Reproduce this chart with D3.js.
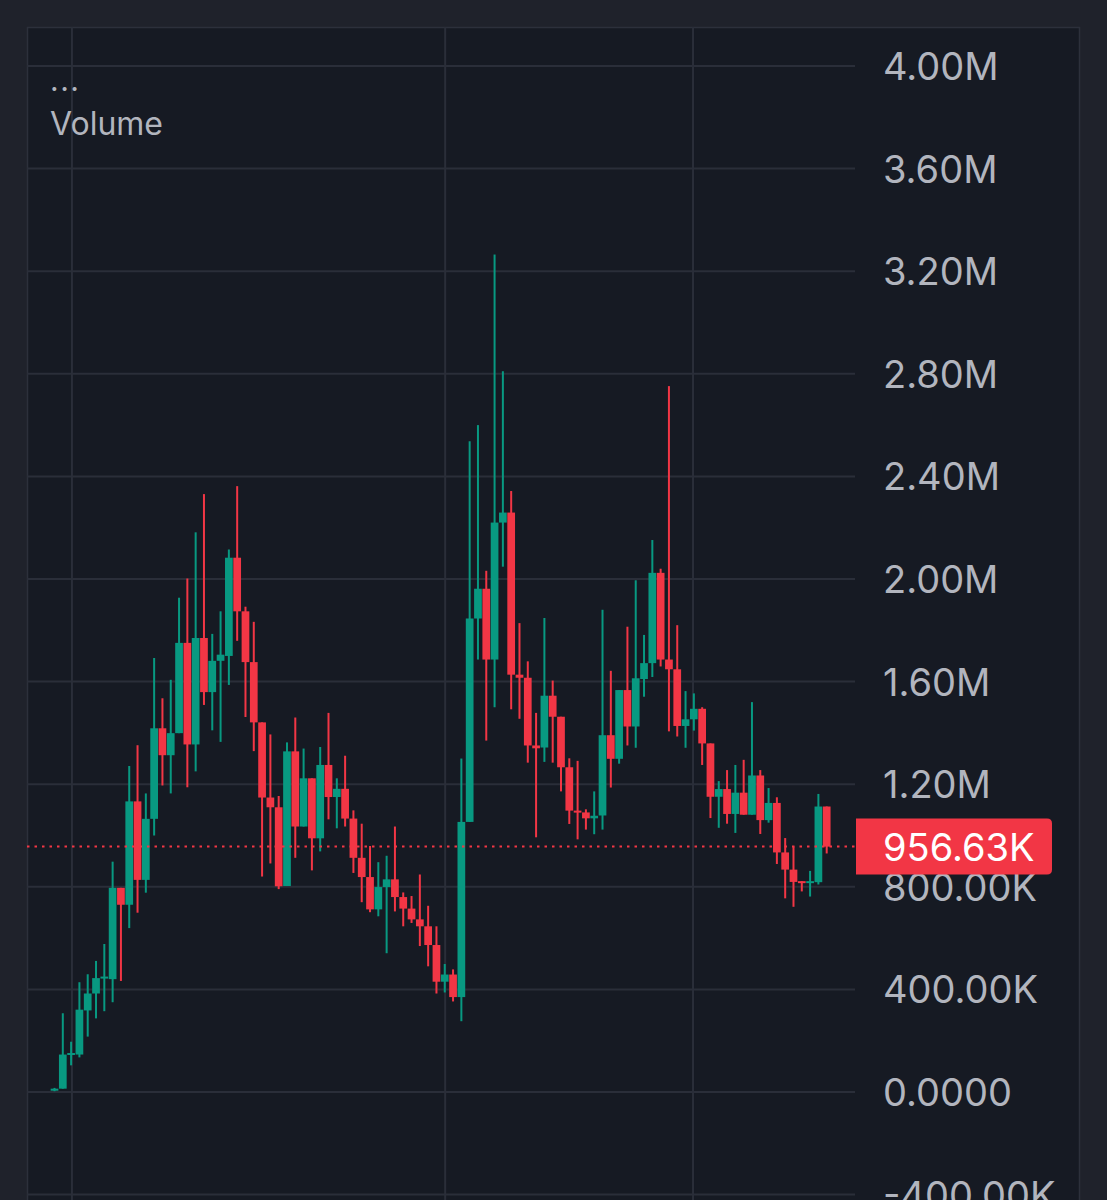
<!DOCTYPE html>
<html>
<head>
<meta charset="utf-8">
<script src="https://cdn.jsdelivr.net/npm/d3@7"></script>
<style>
  html, body { margin: 0; padding: 0; background: #1f222b; }
  svg { display: block; }
</style>
</head>
<body>
<svg id="chart" width="1107" height="1200"></svg>
<script>
// volume candles, values in millions
const opens = [0.005,0.013,0.146,0.146,0.318,0.384,0.444,0.440,0.796,0.730,
  1.133,0.827,1.065,1.418,1.313,1.399,1.751,1.355,1.770,1.559,
  1.681,1.700,2.083,1.874,1.676,1.441,1.148,1.110,0.803,1.328,
  1.035,1.223,0.989,1.275,1.150,1.182,1.066,0.913,0.838,0.712,
  0.799,0.829,0.760,0.715,0.673,0.646,0.573,0.430,0.458,0.370,
  1.053,1.846,1.962,1.686,2.220,2.259,1.627,1.615,1.351,1.343,
  1.545,1.463,1.266,1.097,1.090,1.067,1.078,1.391,1.299,1.567,
  1.425,1.610,1.672,2.024,1.686,1.648,1.427,1.453,1.494,1.359,
  1.151,1.181,1.084,1.167,1.081,1.234,1.060,1.127,0.934,0.867,
  0.822,0.815,0.818,1.113];
const highs = [0.016,0.307,0.196,0.428,0.459,0.511,0.577,0.898,0.796,1.271,
  1.352,1.164,1.692,1.535,1.607,1.927,2.002,2.182,2.331,1.786,
  1.874,2.115,2.362,1.892,1.833,1.441,1.394,1.154,1.363,1.460,
  1.339,1.223,1.345,1.478,1.223,1.311,1.098,1.046,0.959,0.896,
  0.921,1.035,0.778,0.764,0.848,0.726,0.646,0.499,0.478,1.300,
  2.537,2.600,2.032,3.265,2.810,2.343,1.828,1.679,1.478,1.848,
  1.604,1.463,1.301,1.291,1.102,1.172,1.880,1.642,1.567,1.814,
  1.995,1.782,2.152,2.040,2.752,1.820,1.563,1.554,1.500,1.359,
  1.212,1.255,1.275,1.295,1.520,1.255,1.185,1.149,0.990,0.957,
  0.822,0.862,1.162,1.113];
const lows = [0.003,0.013,0.104,0.135,0.216,0.287,0.315,0.350,0.433,0.639,
  0.699,0.777,1.000,1.195,1.164,1.399,1.188,1.250,1.509,1.410,
  1.365,1.587,1.759,1.462,1.329,0.840,0.891,0.791,0.803,0.913,
  1.035,0.864,0.938,1.063,1.028,1.035,0.854,0.740,0.701,0.685,
  0.541,0.704,0.646,0.659,0.569,0.490,0.384,0.388,0.353,0.276,
  1.053,1.686,1.370,1.500,2.048,1.492,1.455,1.284,0.993,1.287,
  1.284,1.172,1.045,0.985,1.023,1.005,1.023,1.187,1.280,1.351,
  1.342,1.541,1.618,1.659,1.406,1.386,1.342,1.409,1.275,1.068,
  1.030,1.046,1.010,1.081,1.081,1.006,1.050,0.889,0.755,0.722,
  0.782,0.762,0.809,0.930];
const closes = [0.013,0.146,0.152,0.321,0.384,0.444,0.450,0.796,0.730,1.133,
  0.827,1.065,1.418,1.313,1.399,1.751,1.355,1.770,1.559,1.681,
  1.705,2.083,1.874,1.676,1.441,1.148,1.110,0.802,1.328,1.035,
  1.223,0.989,1.275,1.150,1.182,1.066,0.913,0.838,0.712,0.799,
  0.829,0.760,0.715,0.673,0.646,0.573,0.430,0.458,0.370,1.053,
  1.846,1.962,1.686,2.220,2.259,1.627,1.615,1.351,1.340,1.545,
  1.463,1.266,1.097,1.090,1.067,1.077,1.391,1.299,1.567,1.425,
  1.613,1.672,2.024,1.686,1.648,1.427,1.453,1.494,1.359,1.151,
  1.181,1.084,1.167,1.081,1.234,1.060,1.127,0.934,0.867,0.819,
  0.815,0.822,1.113,0.95663];

// price axis ticks (millions) and their labels
const tickValues = [-0.4, 0, 0.4, 0.8, 1.2, 1.6, 2.0, 2.4, 2.8, 3.2, 3.6, 4.0];
const tickLabels = ["-400.00K","0.0000","400.00K","800.00K","1.20M","1.60M",
                    "2.00M","2.40M","2.80M","3.20M","3.60M","4.00M"];
// time grid lines, in candle index units
const timeGrid = [2.1, 47.05, 76.9];

const UP = "#089981", DOWN = "#f23645";
const TXT = "#b2b5be", GRID = "#2a2e39";
const FONT = "Inter, 'Noto Sans', sans-serif";

const svg = d3.select("#chart");
const W = 1107, H = 1200;
const panel = { left: 27, top: 27, right: 1080, plotRight: 855 };

// 1) panel background + borders
svg.append("rect")
  .attr("x", panel.left).attr("y", panel.top)
  .attr("width", panel.right - panel.left).attr("height", H - panel.top)
  .attr("fill", "#161a23");
svg.append("path")
  .attr("d", `M${panel.left + 0.5},${H} V${panel.top + 0.5} H${panel.right - 0.5} V${H}`)
  .attr("fill", "none").attr("stroke", "#2c303b").attr("stroke-width", 1.5);

// 2) scales
const data = opens.map((o, i) => ({ i, o, h: highs[i], l: lows[i], c: closes[i] }));
const x = d3.scaleBand()
  .domain(data.map(d => d.i))
  .range([50.35, 830.85])
  .paddingInner(0.07)
  .paddingOuter(0.035);
const y = d3.scaleLinear().domain([0, 4.0]).range([1092, 66]);

const gridX = g => x(Math.floor(g)) + x.bandwidth() / 2 + (g % 1) * x.step();

// 3) grid
svg.append("g").selectAll("line")
  .data(tickValues)
  .join("line")
    .attr("x1", panel.left).attr("x2", panel.plotRight)
    .attr("y1", d => y(d)).attr("y2", d => y(d))
    .attr("stroke", GRID).attr("stroke-width", 2);
svg.append("g").selectAll("line")
  .data(timeGrid)
  .join("line")
    .attr("x1", gridX).attr("x2", gridX)
    .attr("y1", panel.top).attr("y2", H)
    .attr("stroke", GRID).attr("stroke-width", 2);

// 4) candles
const candles = svg.append("g").selectAll("g")
  .data(data)
  .join("g")
    .attr("fill", d => d.c >= d.o ? UP : DOWN);
candles.append("rect")
  .attr("x", d => x(d.i) + x.bandwidth() / 2 - 1)
  .attr("width", 2)
  .attr("y", d => y(d.h))
  .attr("height", d => Math.max(1, y(d.l) - y(d.h)));
candles.append("rect")
  .attr("x", d => x(d.i))
  .attr("width", x.bandwidth())
  .attr("y", d => y(Math.max(d.o, d.c)))
  .attr("height", d => Math.max(2, Math.abs(y(d.o) - y(d.c))));

// 5) last value line
const last = closes[closes.length - 1];
svg.append("line")
  .attr("x1", panel.left).attr("x2", panel.plotRight)
  .attr("y1", y(last)).attr("y2", y(last))
  .attr("stroke", DOWN).attr("stroke-width", 2)
  .attr("stroke-dasharray", "2.5,5");

// 6) axis labels (right side)
svg.append("g").selectAll("text")
  .data(tickValues)
  .join("text")
    .attr("x", 883)
    .attr("y", d => y(d) + 14)
    .attr("fill", TXT)
    .style("font-family", FONT)
    .style("font-size", "38px")
    .text((d, i) => tickLabels[i]);

// 7) last value tag
const ty = y(last);
svg.append("path")
  .attr("d", `M856,${ty - 28} H1047 Q1052,${ty - 28} 1052,${ty - 23} V${ty + 23} Q1052,${ty + 28} 1047,${ty + 28} H856 Z`)
  .attr("fill", DOWN);
svg.append("text")
  .attr("x", 883).attr("y", ty + 14)
  .attr("fill", "#ffffff")
  .style("font-family", FONT)
  .style("font-size", "38px")
  .text(d3.format(".2f")(last * 1000) + "K");

// 8) legend
svg.append("text")
  .attr("x", 50).attr("y", 91)
  .attr("fill", TXT)
  .style("font-family", FONT)
  .style("font-size", "30px")
  .style("letter-spacing", "1.5px")
  .text("...");
svg.append("text")
  .attr("x", 50).attr("y", 135)
  .attr("fill", TXT)
  .style("font-family", FONT)
  .style("font-size", "32px")
  .text("Volume");
</script>
</body>
</html>
